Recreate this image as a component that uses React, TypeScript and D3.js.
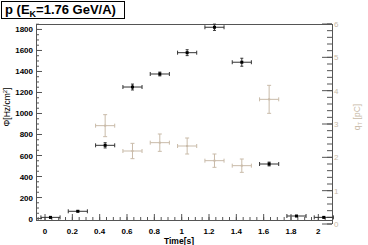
import React from "react";
import * as d3 from "d3";

const timeX = [0.04, 0.24, 0.44, 0.64, 0.84, 1.04, 1.24, 1.44, 1.64, 1.84, 2.04];
const fluxY = [11, 69, 697, 1252, 1376, 1579, 1821, 1488, 519, 24, 11];
const fluxErr = [5, 5, 25, 28, 18, 28, 30, 38, 18, 5, 5];
const timeErr = 0.07;

const chargeX = [0.44, 0.64, 0.84, 1.04, 1.24, 1.44, 1.64];
const chargeY = [2.95, 2.19, 2.44, 2.34, 1.9, 1.75, 3.74];
const chargeErr = [0.33, 0.23, 0.26, 0.24, 0.2, 0.2, 0.42];

const xTicks = [0, 0.2, 0.4, 0.6, 0.8, 1, 1.2, 1.4, 1.6, 1.8, 2];
const yTicks = [0, 200, 400, 600, 800, 1000, 1200, 1400, 1600, 1800];
const qTicks = [0, 1, 2, 3, 4, 5, 6];

const FONT = "'Liberation Sans', Arial, Helvetica, sans-serif";
const TAN = "#c9bba9";
const AX = "#555";

export default function App() {
  const L = 36, R = 332, T = 24, B = 220;
  const x = d3.scaleLinear().domain([-0.066, 2.1]).range([L, R]);
  const y = d3.scaleLinear().domain([-14, 1852]).range([B, T]);
  const q = d3.scaleLinear().domain([0, 6]).range([224, T]);

  const xMinor = d3.range(-0.05, 2.1, 0.05).filter((v) => x(v) >= L && x(v) <= R);
  const yMinor = d3.range(0, 1851, 50);
  const qMinor = d3.range(0, 6.01, 0.2);

  return (
    <svg width={368} height={245} style={{ position: "absolute", left: 0, top: 0, background: "#fff" }} fontFamily={FONT}>
      <rect x={0} y={0} width={368} height={245} fill="#fff" />
      {/* title box */}
      <rect x={1.5} y={1.5} width={123} height={17} fill="#fff" stroke="#000" strokeWidth={1} />
      <text x={5} y={14} fontSize={13} fontWeight="bold" fill="#000">
        p (E<tspan fontSize={9} dy={3}>K</tspan><tspan dy={-3}>=1.76 GeV/A)</tspan>
      </text>

      {/* frame */}
      <line x1={L} x2={R} y1={T + 0.5} y2={T + 0.5} stroke={AX} />
      <line x1={L + 0.5} x2={L + 0.5} y1={T} y2={B} stroke={AX} />
      <line x1={L} x2={R} y1={B + 0.5} y2={B + 0.5} stroke={AX} />

      {/* x axis ticks */}
      {xMinor.map((v, i) => (
        <line key={"xm" + i} x1={x(v)} x2={x(v)} y1={B} y2={B - 3} stroke={AX} />
      ))}
      {xTicks.map((v) => (
        <g key={"xt" + v}>
          <line x1={x(v)} x2={x(v)} y1={B} y2={B - 6} stroke={AX} />
          <text x={x(v)} y={234} fontSize={8} fontWeight="bold" textAnchor="middle" fill="#000">
            {d3.format("~g")(v)}
          </text>
        </g>
      ))}
      <text x={179} y={243.5} fontSize={8.5} fontWeight="bold" textAnchor="middle" fill="#000">
        Time[s]
      </text>

      {/* left y axis */}
      {yMinor.map((v, i) => (
        <line key={"ym" + i} x1={L} x2={L + 3} y1={y(v)} y2={y(v)} stroke={AX} />
      ))}
      {yTicks.map((v) => (
        <g key={"yt" + v}>
          <line x1={L} x2={L + 6} y1={y(v)} y2={y(v)} stroke={AX} />
          <text x={33} y={y(v) + 3} fontSize={8} fontWeight="bold" textAnchor="end" fill="#000">
            {v}
          </text>
        </g>
      ))}
      <text transform={`translate(10,107) rotate(-90)`} fontSize={8.5} textAnchor="middle" fill="#000">
        Φ[Hz/cm<tspan fontSize={6} dy={-3}>2</tspan><tspan dy={3}>]</tspan>
      </text>

      {/* right q axis */}
      <line x1={R + 0.5} x2={R + 0.5} y1={T} y2={224} stroke={AX} />
      {qMinor.map((v, i) => (
        <line key={"qm" + i} x1={R} x2={R - 5} y1={q(v)} y2={q(v)} stroke={AX} />
      ))}
      {qTicks.map((v) => (
        <g key={"qt" + v}>
          <line x1={R} x2={R - 10} y1={q(v)} y2={q(v)} stroke={AX} />
          <text x={334} y={q(v) + 3} fontSize={8} textAnchor="start" fill={TAN}>
            {v}
          </text>
        </g>
      ))}
      <text transform={`translate(360,117) rotate(-90)`} fontSize={8.5} textAnchor="middle" fill={TAN}>
        q<tspan fontSize={6} dy={2}>T</tspan><tspan dy={-2}> [pC]</tspan>
      </text>

      {/* charge series */}
      {chargeX.map((v, i) => (
        <g key={"c" + i} stroke={TAN} strokeWidth={1}>
          <line x1={x(v - timeErr)} x2={x(v + timeErr)} y1={q(chargeY[i])} y2={q(chargeY[i])} />
          <line x1={x(v)} x2={x(v)} y1={q(chargeY[i] - chargeErr[i])} y2={q(chargeY[i] + chargeErr[i])} />
          <line x1={x(v) - 2} x2={x(v) + 2} y1={q(chargeY[i] - chargeErr[i])} y2={q(chargeY[i] - chargeErr[i])} />
          <line x1={x(v) - 2} x2={x(v) + 2} y1={q(chargeY[i] + chargeErr[i])} y2={q(chargeY[i] + chargeErr[i])} />
          <line x1={x(v - timeErr)} x2={x(v - timeErr)} y1={q(chargeY[i]) - 2} y2={q(chargeY[i]) + 2} />
          <line x1={x(v + timeErr)} x2={x(v + timeErr)} y1={q(chargeY[i]) - 2} y2={q(chargeY[i]) + 2} />
          <rect x={x(v) - 1} y={q(chargeY[i]) - 1} width={2} height={2} fill={TAN} stroke="none" />
        </g>
      ))}

      {/* flux series */}
      {timeX.map((v, i) => (
        <g key={"f" + i} stroke="#333" strokeWidth={1}>
          <line x1={x(v - timeErr)} x2={x(v + timeErr)} y1={y(fluxY[i])} y2={y(fluxY[i])} />
          <line x1={x(v)} x2={x(v)} y1={y(fluxY[i] - fluxErr[i])} y2={y(fluxY[i] + fluxErr[i])} />
          <line x1={x(v) - 1.5} x2={x(v) + 1.5} y1={y(fluxY[i] - fluxErr[i])} y2={y(fluxY[i] - fluxErr[i])} />
          <line x1={x(v) - 1.5} x2={x(v) + 1.5} y1={y(fluxY[i] + fluxErr[i])} y2={y(fluxY[i] + fluxErr[i])} />
          <line x1={x(v - timeErr)} x2={x(v - timeErr)} y1={y(fluxY[i]) - 2} y2={y(fluxY[i]) + 2} />
          <line x1={x(v + timeErr)} x2={x(v + timeErr)} y1={y(fluxY[i]) - 2} y2={y(fluxY[i]) + 2} />
          <rect x={x(v) - 1.5} y={y(fluxY[i]) - 1.5} width={3} height={3} fill="#000" stroke="none" />
        </g>
      ))}
    </svg>
  );
}
